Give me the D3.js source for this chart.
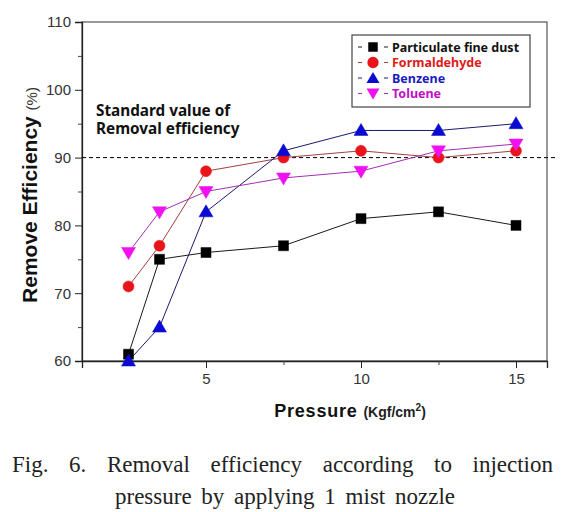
<!DOCTYPE html>
<html>
<head>
<meta charset="utf-8">
<script src="https://cdn.jsdelivr.net/npm/d3@7"></script>
<style>
  html, body { margin: 0; padding: 0; background: #fff; }
  svg { display: block; }
</style>
</head>
<body>
<svg id="chart" width="573" height="512"></svg>
<script>
const pressure = [2.5, 3.5, 5, 7.5, 10, 12.5, 15];
const seriesNames = ["Particulate fine dust", "Formaldehyde", "Benzene", "Toluene"];
const fineDust = [61, 75, 76, 77, 81, 82, 80];
const formaldehyde = [71, 77, 88, 90, 91, 90, 91];
const benzene = [60, 65, 82, 91, 94, 94, 95];
const toluene = [76, 82, 85, 87, 88, 91, 92];
const xTicks = [5, 10, 15];
const xMinorTicks = [2.5, 7.5, 12.5];
const yTicks = [60, 70, 80, 90, 100, 110];
const yMinorTicks = [65, 75, 85, 95, 105];
const standardValue = 90;

const series = [
  { name: seriesNames[0], values: fineDust, marker: "square", fill: "#000000", line: "#1a1a1a", text: "#111111" },
  { name: seriesNames[1], values: formaldehyde, marker: "circle", fill: "#e8141a", line: "#a04040", text: "#e01a1a" },
  { name: seriesNames[2], values: benzene, marker: "triangle", fill: "#0a0ad0", line: "#1a1a70", text: "#1a1ac0" },
  { name: seriesNames[3], values: toluene, marker: "triangleDown", fill: "#f010f0", line: "#a030b0", text: "#c010c8" }
];

const svg = d3.select("#chart");
const L = 82, R = 547, T = 22, B = 361;
const x = d3.scaleLinear().domain([1, 16]).range([L, R]);
const y = d3.scaleLinear().domain([60, 110]).range([B, T]);

// frame (top / right)
svg.append("rect").attr("x", L).attr("y", T).attr("width", R - L).attr("height", B - T)
  .attr("fill", "none").attr("stroke", "#555").attr("stroke-width", 1.2);

// y axis
const yAxis = svg.append("g").attr("transform", `translate(${L},0)`)
  .call(d3.axisLeft(y).tickValues(yTicks).tickSize(7).tickPadding(4).tickFormat(d3.format("d")));
yAxis.select(".domain").attr("stroke", "#222").attr("stroke-width", 1.3);
yAxis.selectAll(".tick line").attr("stroke", "#222");
yAxis.selectAll("text").attr("font-family", "Arial, 'Liberation Sans', sans-serif").attr("font-size", 15).attr("fill", "#333");
const yMinor = svg.append("g").attr("transform", `translate(${L},0)`)
  .call(d3.axisLeft(y).tickValues(yMinorTicks).tickSize(4).tickFormat(""));
yMinor.select(".domain").remove();
yMinor.selectAll(".tick line").attr("stroke", "#444");

// x axis
const xAxis = svg.append("g").attr("transform", `translate(0,${B})`)
  .call(d3.axisBottom(x).tickValues(xTicks).tickSize(7).tickPadding(5).tickFormat(d3.format("d")));
xAxis.select(".domain").attr("stroke", "#222").attr("stroke-width", 1.3);
xAxis.selectAll(".tick line").attr("stroke", "#222");
xAxis.selectAll("text").attr("font-family", "Arial, 'Liberation Sans', sans-serif").attr("font-size", 15).attr("fill", "#333");
const xMinor = svg.append("g").attr("transform", `translate(0,${B})`)
  .call(d3.axisBottom(x).tickValues(xMinorTicks).tickSize(4).tickFormat(""));
xMinor.select(".domain").remove();
xMinor.selectAll(".tick line").attr("stroke", "#444");

// standard value dashed line
svg.append("line").attr("x1", L).attr("x2", 556)
  .attr("y1", y(standardValue)).attr("y2", y(standardValue))
  .attr("stroke", "#000").attr("stroke-width", 1).attr("stroke-dasharray", "4,3");

svg.append("text").attr("x", 96).attr("y", 116)
  .attr("font-family", "'Noto Sans', 'Open Sans', sans-serif").attr("font-weight", "bold").attr("font-size", 15.3)
  .attr("fill", "#111").text("Standard value of");
svg.append("text").attr("x", 96).attr("y", 134)
  .attr("font-family", "'Noto Sans', 'Open Sans', sans-serif").attr("font-weight", "bold").attr("font-size", 15.3)
  .attr("fill", "#111").text("Removal efficiency");

// symbols
function markerPath(type) {
  if (type === "square") return d3.symbol().type(d3.symbolSquare).size(100)();
  if (type === "circle") return d3.symbol().type(d3.symbolCircle).size(95)();
  if (type === "triangle") return "M0,-7L7,5L-7,5Z";
  return "M0,7L7,-5L-7,-5Z";
}

const line = d3.line().x((d, i) => x(pressure[i])).y(d => y(d));

// draw lines first, then markers
series.forEach(s => {
  svg.append("path").datum(s.values).attr("d", line)
    .attr("fill", "none").attr("stroke", s.line).attr("stroke-width", 1);
});
series.forEach(s => {
  svg.append("g").selectAll("path").data(s.values).join("path")
    .attr("d", markerPath(s.marker))
    .attr("transform", (d, i) => `translate(${x(pressure[i])},${y(d)})`)
    .attr("fill", s.fill).attr("stroke", s.fill).attr("stroke-width", 0.5);
});

// legend
const lg = svg.append("g");
lg.append("rect").attr("x", 352).attr("y", 35).attr("width", 178).attr("height", 72)
  .attr("fill", "#fff").attr("stroke", "#444").attr("stroke-width", 1.2);
series.forEach((s, i) => {
  const cy = 47 + i * 15.5;
  lg.append("line").attr("x1", 358).attr("x2", 362).attr("y1", cy).attr("y2", cy).attr("stroke", s.line).attr("stroke-width", 1);
  lg.append("line").attr("x1", 384).attr("x2", 388).attr("y1", cy).attr("y2", cy).attr("stroke", s.line).attr("stroke-width", 1);
  let p;
  if (s.marker === "square") p = d3.symbol().type(d3.symbolSquare).size(90)();
  else if (s.marker === "circle") p = d3.symbol().type(d3.symbolCircle).size(100)();
  else if (s.marker === "triangle") p = "M0,-6L6.5,5L-6.5,5Z";
  else p = "M0,6L6.5,-5L-6.5,-5Z";
  lg.append("path").attr("d", p).attr("transform", `translate(373,${cy})`).attr("fill", s.fill);
  lg.append("text").attr("x", 392).attr("y", cy + 4.5)
    .attr("font-family", "'Noto Sans', 'Open Sans', sans-serif").attr("font-weight", "bold").attr("font-size", 12.5)
    .attr("fill", s.text).text(s.name);
});

// y axis title
const yt = svg.append("text").attr("transform", "translate(37,195) rotate(-90)")
  .attr("text-anchor", "middle").attr("font-family", "Arial, 'Liberation Sans', sans-serif").attr("fill", "#111");
yt.append("tspan").attr("font-weight", "bold").attr("font-size", 21).text("Remove Efficiency ");
yt.append("tspan").attr("font-size", 15).attr("fill", "#333").text("(%)");

// x axis title
const xt = svg.append("text").attr("x", 350).attr("y", 417).attr("text-anchor", "middle")
  .attr("font-family", "Arial, 'Liberation Sans', sans-serif").attr("fill", "#111");
xt.append("tspan").attr("font-weight", "bold").attr("font-size", 18).attr("letter-spacing", 0.8).text("Pressure ");
xt.append("tspan").attr("font-weight", "bold").attr("font-size", 14).attr("fill", "#222").text("(Kgf/cm");
xt.append("tspan").attr("font-weight", "bold").attr("font-size", 10).attr("dy", -6).attr("fill", "#222").text("2");
xt.append("tspan").attr("font-weight", "bold").attr("font-size", 14).attr("dy", 6).attr("fill", "#222").text(")");

// caption
const cap1Words = ["Fig.", "6.", "Removal", "efficiency", "according", "to", "injection"];
const cap1 = svg.append("g");
const wordEls = cap1Words.map(w => cap1.append("text").attr("y", 472)
  .attr("font-family", "'Liberation Serif', serif").attr("font-size", 23).attr("fill", "#222").text(w));
const widths = wordEls.map(t => t.node().getComputedTextLength());
const total = d3.sum(widths);
const left = 12, right = 553;
const gap = (right - left - total) / (cap1Words.length - 1);
let cx = left;
wordEls.forEach((t, i) => { t.attr("x", cx); cx += widths[i] + gap; });

svg.append("text").attr("x", 285).attr("y", 504).attr("text-anchor", "middle")
  .attr("font-family", "'Liberation Serif', serif").attr("font-size", 23).attr("fill", "#222")
  .attr("word-spacing", 4)
  .text("pressure by applying 1 mist nozzle");
</script>
</body>
</html>
